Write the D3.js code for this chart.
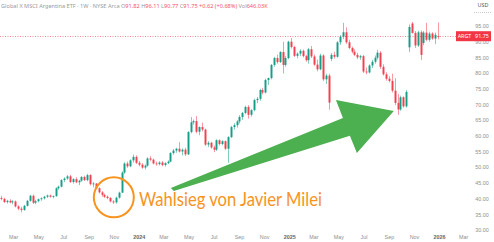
<!DOCTYPE html>
<html>
<head>
<meta charset="utf-8">
<script src="https://cdn.jsdelivr.net/npm/d3@7"></script>
<style>
  html, body { margin: 0; padding: 0; background: #fff; }
  svg { display: block; font-family: "Noto Sans", "DejaVu Sans", sans-serif; }
</style>
</head>
<body>
<div id="outlet"></div>
<script>
// weekly ARGT candles, Jan 30 2023 .. Dec 29 2025
const opens = [
  40.2, 39.9, 38.9, 39.3, 38.8, 39.1, 37.5, 36.8, 36.4, 37.7,
  39.3, 40.9, 38.7, 39.2, 39.8, 40.1, 40.6, 41.0, 40.6, 40.8,
  43.3, 43.8, 45.9, 46.4, 47.1, 45.3, 46.2, 45.2, 45.7, 46.9,
  45.9, 47.5, 44.6, 44.8, 43.3, 42.0, 41.2, 40.6, 40.2, 39.1,
  38.8, 40.3, 41.9, 48.3, 51.2, 50.3, 52.2, 53.3, 51.4, 50.8,
  49.9, 50.5, 52.8, 52.4, 51.2, 51.0, 51.5, 50.7, 51.3, 51.8,
  54.5, 55.3, 55.9, 55.0, 55.6, 54.1, 61.2, 64.3, 64.7, 61.3,
  62.8, 62.0, 57.2, 57.8, 56.3, 55.6, 58.6, 57.4, 58.3, 55.9,
  59.6, 62.8, 63.4, 64.6, 66.0, 67.3, 69.2, 66.7, 68.2, 71.4,
  71.8, 74.6, 73.8, 77.8, 78.4, 82.6, 84.8, 83.5, 86.7, 82.6,
  84.8, 90.0, 88.3, 85.5, 86.2, 87.1, 85.4, 84.1, 87.6, 85.3,
  82.7, 81.2, 85.6, 78.0, 79.2, 84.5, 85.8, 85.2, 89.8, 91.6,
  93.0, 89.8, 88.0, 86.8, 85.8, 85.0, 85.4, 80.5, 80.2, 82.4,
  83.6, 84.9, 86.5, 82.0, 79.6, 78.2, 77.5, 74.4, 70.5, 68.4,
  72.3, 69.4, 88.2, 95.8, 92.8, 88.8, 93.0, 89.6, 92.9, 90.6,
  92.6, 91.0, 91.82
];
const highs = [
  40.9, 40.3, 39.6, 39.8, 39.5, 39.4, 37.9, 37.4, 38.0, 39.6,
  41.2, 41.3, 39.6, 40.0, 40.4, 40.9, 41.3, 41.3, 41.0, 43.6,
  44.2, 46.2, 46.8, 47.5, 47.6, 46.5, 46.8, 46.0, 47.2, 47.3,
  47.9, 47.8, 45.3, 45.0, 43.6, 42.4, 41.6, 41.0, 40.5, 39.5,
  40.6, 42.2, 48.7, 51.6, 51.8, 52.5, 54.0, 53.8, 52.0, 51.3,
  50.9, 53.2, 53.5, 52.7, 51.8, 51.9, 52.0, 51.6, 52.2, 54.8,
  55.8, 56.2, 58.0, 56.0, 56.2, 61.5, 66.0, 65.2, 66.3, 63.0,
  64.2, 62.3, 58.3, 58.1, 56.9, 58.9, 58.9, 58.6, 58.5, 59.9,
  63.2, 64.0, 65.0, 66.6, 67.6, 69.6, 69.8, 68.5, 71.8, 72.4,
  75.0, 75.3, 78.2, 78.6, 82.9, 85.2, 85.9, 87.0, 90.0, 85.4,
  90.3, 91.2, 88.7, 86.6, 87.6, 87.5, 85.8, 88.0, 88.6, 85.9,
  84.3, 86.2, 86.0, 79.8, 79.8, 86.4, 86.8, 90.2, 92.1, 96.0,
  94.6, 90.6, 88.4, 87.6, 86.5, 85.8, 85.8, 81.8, 82.8, 84.2,
  85.6, 87.4, 87.0, 82.8, 80.3, 79.0, 79.8, 78.4, 73.3, 72.8,
  72.6, 74.6, 95.5, 96.3, 93.4, 93.5, 93.6, 93.4, 96.0, 93.2,
  93.0, 92.9, 96.11
];
const lows = [
  39.5, 38.6, 38.4, 38.5, 38.2, 37.2, 36.3, 35.6, 36.1, 37.5,
  39.0, 38.3, 38.2, 38.8, 39.3, 39.7, 40.2, 40.3, 40.1, 40.6,
  42.8, 43.6, 45.3, 46.0, 45.0, 44.8, 44.9, 44.3, 45.4, 45.6,
  45.5, 44.2, 43.6, 43.0, 41.6, 40.6, 40.2, 39.8, 38.8, 38.3,
  38.4, 40.0, 41.8, 47.9, 49.8, 50.0, 51.5, 51.0, 50.3, 49.5,
  49.3, 50.2, 51.9, 50.9, 50.5, 50.6, 50.3, 50.2, 51.0, 51.6,
  54.0, 54.6, 54.7, 53.8, 53.6, 53.9, 60.8, 63.6, 60.8, 60.2,
  61.4, 56.8, 56.4, 55.9, 54.8, 55.2, 56.9, 57.0, 55.5, 51.4,
  59.3, 62.0, 62.6, 63.9, 65.1, 66.9, 65.5, 66.1, 67.8, 70.4,
  71.2, 73.2, 73.5, 76.2, 78.0, 82.0, 83.0, 83.2, 79.9, 82.0,
  84.4, 87.8, 85.1, 84.7, 85.4, 85.0, 83.6, 83.0, 84.8, 82.3,
  80.6, 80.9, 77.5, 76.5, 68.3, 83.8, 84.6, 84.9, 89.0, 90.8,
  89.3, 87.6, 86.3, 85.4, 84.5, 84.2, 80.0, 79.6, 79.9, 81.6,
  83.0, 84.3, 81.3, 79.2, 77.6, 77.0, 73.8, 69.8, 66.7, 68.0,
  69.0, 69.0, 86.7, 92.6, 88.0, 88.3, 84.2, 88.9, 90.2, 90.0,
  90.6, 89.2, 90.77
];
const closes = [
  39.9, 38.9, 39.3, 38.8, 39.1, 37.5, 36.8, 36.4, 37.7, 39.3,
  40.9, 38.7, 39.2, 39.8, 40.1, 40.6, 41.0, 40.6, 40.8, 43.3,
  43.8, 45.9, 46.4, 47.1, 45.3, 46.2, 45.2, 45.7, 46.9, 45.9,
  47.5, 44.6, 44.8, 43.3, 42.0, 41.2, 40.6, 40.2, 39.1, 38.8,
  40.3, 41.9, 48.3, 51.2, 50.3, 52.2, 53.3, 51.4, 50.8, 49.9,
  50.5, 52.8, 52.4, 51.2, 51.0, 51.5, 50.7, 51.3, 51.8, 54.5,
  55.3, 55.9, 55.0, 55.6, 54.1, 61.2, 64.3, 64.7, 61.3, 62.8,
  62.0, 57.2, 57.8, 56.3, 55.6, 58.6, 57.4, 58.3, 55.9, 59.6,
  62.8, 63.4, 64.6, 66.0, 67.3, 69.2, 66.7, 68.2, 71.4, 71.8,
  74.6, 73.8, 77.8, 78.4, 82.6, 84.8, 83.5, 86.7, 82.6, 84.8,
  90.0, 88.3, 85.5, 86.2, 87.1, 85.4, 84.1, 87.6, 85.3, 82.7,
  81.2, 85.6, 78.0, 79.2, 70.6, 85.8, 85.2, 89.8, 91.6, 93.0,
  89.8, 88.0, 86.8, 85.8, 85.0, 85.4, 80.5, 80.2, 82.4, 83.6,
  84.9, 86.5, 82.0, 79.6, 78.2, 77.5, 74.4, 70.5, 68.4, 72.3,
  69.4, 74.0, 94.7, 92.8, 88.8, 93.0, 85.8, 92.9, 90.6, 92.6,
  91.0, 92.2, 91.75
];
const yTicks = [30, 35, 40, 45, 50, 55, 60, 65, 70, 75, 80, 85, 90, 95];
const monthNames = ["Jan", "Feb", "Mar", "Apr", "May", "Jun", "Jul", "Aug", "Sep", "Oct", "Nov", "Dec"];
const lastPrice = 91.75;
const ticker = "ARGT";
const headerParts = [
  ["Global X MSCI Argentina ETF · 1W · NYSE Arca  ", "#9a9a9a"],
  ["O", "#9a9a9a"], ["91.82 ", "#f7525f"],
  ["H", "#9a9a9a"], ["96.11 ", "#f7525f"],
  ["L", "#9a9a9a"], ["90.77 ", "#f7525f"],
  ["C", "#9a9a9a"], ["91.75 ", "#f7525f"],
  ["+0.62 (+0.68%) ", "#f7525f"],
  ["Vol", "#9a9a9a"], ["646.03K", "#f7525f"]
];
const annotationText = "Wahlsieg von Javier Milei";
// election circle and arrow, in data space
const circleAt = { date: new Date(Date.UTC(2023, 10, 1)), value: 40.4 };
const arrowPts = [
  [Date.UTC(2024, 2, 19), 43.4], [Date.UTC(2025, 4, 12), 65.7], [Date.UTC(2025, 3, 25), 71.4],
  [Date.UTC(2025, 8, 13), 67.9], [Date.UTC(2025, 5, 15), 54.5], [Date.UTC(2025, 4, 29), 60.0],
  [Date.UTC(2024, 2, 26), 42.4]
];

const width = 494, height = 242;
const plotRight = 456;
const green = "#089981", red = "#f23645";

const dates = d3.utcMonday.range(new Date(Date.UTC(2023, 0, 30)), new Date(Date.UTC(2026, 0, 1)));
const data = dates.map((d, i) => ({ date: d, o: opens[i], h: highs[i], l: lows[i], c: closes[i] }));

const x = d3.scaleUtc()
  .domain([new Date(Date.UTC(2023, 0, 1)), new Date(Date.UTC(2026, 0, 1))])
  .range([-11, 439]);
const y = d3.scaleLinear().domain([30, 95]).range([230, 26]);

const svg = d3.select("#outlet").append("svg")
  .attr("width", width).attr("height", height)
  .attr("viewBox", [0, 0, width, height]);

svg.append("defs").append("clipPath").attr("id", "plot")
  .append("rect").attr("x", 0).attr("y", 0).attr("width", plotRight).attr("height", height);

// header
const header = svg.append("text").attr("x", 1).attr("y", 8)
  .attr("font-size", 5.6);
headerParts.forEach(([t, c]) => header.append("tspan").attr("fill", c).text(t));

// axes
const xTicks = d3.utcMonth.every(2).range(new Date(Date.UTC(2023, 2, 1)), new Date(Date.UTC(2026, 3, 1)));
svg.append("g")
  .attr("transform", `translate(0,230)`)
  .call(d3.axisBottom(x).tickValues(xTicks).tickSize(0).tickPadding(5)
    .tickFormat(d => d.getUTCMonth() === 0 ? d.getUTCFullYear() : monthNames[d.getUTCMonth()]))
  .call(g => g.select(".domain").remove())
  .call(g => g.selectAll("text")
    .attr("font-size", 5.4)
    .attr("fill", d => d.getUTCMonth() === 0 ? "#666" : "#8f8f8f")
    .attr("font-weight", d => d.getUTCMonth() === 0 ? 600 : 400));

svg.append("g")
  .attr("transform", `translate(${plotRight + 26},0)`)
  .call(d3.axisRight(y).tickValues(yTicks).tickSize(0).tickPadding(0).tickFormat(d3.format(".2f")))
  .call(g => g.select(".domain").remove())
  .call(g => g.selectAll("text").attr("font-size", 5.4).attr("fill", "#8f8f8f").attr("text-anchor", "middle"));

svg.append("text").attr("x", 483).attr("y", 7).attr("font-size", 5.4)
  .attr("fill", "#555").attr("text-anchor", "middle").text("USD");
svg.append("line").attr("x1", 474).attr("x2", 492).attr("y1", 12.5).attr("y2", 12.5)
  .attr("stroke", "#ccc").attr("stroke-dasharray", "1,1");

// last price line
svg.append("line")
  .attr("x1", 0).attr("x2", plotRight)
  .attr("y1", Math.round(y(lastPrice)) + 0.5).attr("y2", Math.round(y(lastPrice)) + 0.5)
  .attr("stroke", red).attr("stroke-opacity", 0.6).attr("stroke-dasharray", "1,1.5");

// candles
const candles = svg.append("g").attr("clip-path", "url(#plot)")
  .selectAll("g").data(data).join("g");
candles.append("line")
  .attr("x1", d => Math.round(x(d.date)) + 0.5).attr("x2", d => Math.round(x(d.date)) + 0.5)
  .attr("y1", d => y(d.h)).attr("y2", d => y(d.l))
  .attr("stroke", d => d.c >= d.o ? green : red)
  .attr("stroke-opacity", 0.5);
candles.append("rect")
  .attr("x", d => Math.round(x(d.date)) - 0.5)
  .attr("width", 2)
  .attr("y", d => y(Math.max(d.o, d.c)))
  .attr("height", d => Math.max(0.8, Math.abs(y(d.o) - y(d.c))))
  .attr("fill", d => d.c >= d.o ? green : red)
  .attr("fill-opacity", 0.9);

// price labels
const py = y(lastPrice);
svg.append("rect").attr("x", 456).attr("y", py - 5).attr("width", 17).attr("height", 10).attr("fill", red);
svg.append("rect").attr("x", 473).attr("y", py - 5).attr("width", 18).attr("height", 10).attr("fill", red);
svg.append("text").attr("x", 464.5).attr("y", py + 2).attr("font-size", 5.4).attr("fill", "#fff")
  .attr("text-anchor", "middle").text(ticker);
svg.append("text").attr("x", 482).attr("y", py + 2).attr("font-size", 5.4).attr("fill", "#fff")
  .attr("text-anchor", "middle").text(d3.format(".2f")(lastPrice));

// annotation
svg.append("polygon")
  .attr("points", arrowPts.map(([t, v]) => [x(new Date(t)), y(v)].join(",")).join(" "))
  .attr("fill", "#4caf50");

svg.append("circle")
  .attr("cx", x(circleAt.date)).attr("cy", y(circleAt.value)).attr("r", 20)
  .attr("fill", "none").attr("stroke", "#f7931e").attr("stroke-width", 2);

svg.append("text")
  .attr("x", 139).attr("y", 206)
  .attr("font-family", "Lato, sans-serif")
  .attr("font-size", 19)
  .attr("fill", "#f7931e")
  .attr("textLength", 183).attr("lengthAdjust", "spacingAndGlyphs")
  .text(annotationText);
</script>
</body>
</html>
